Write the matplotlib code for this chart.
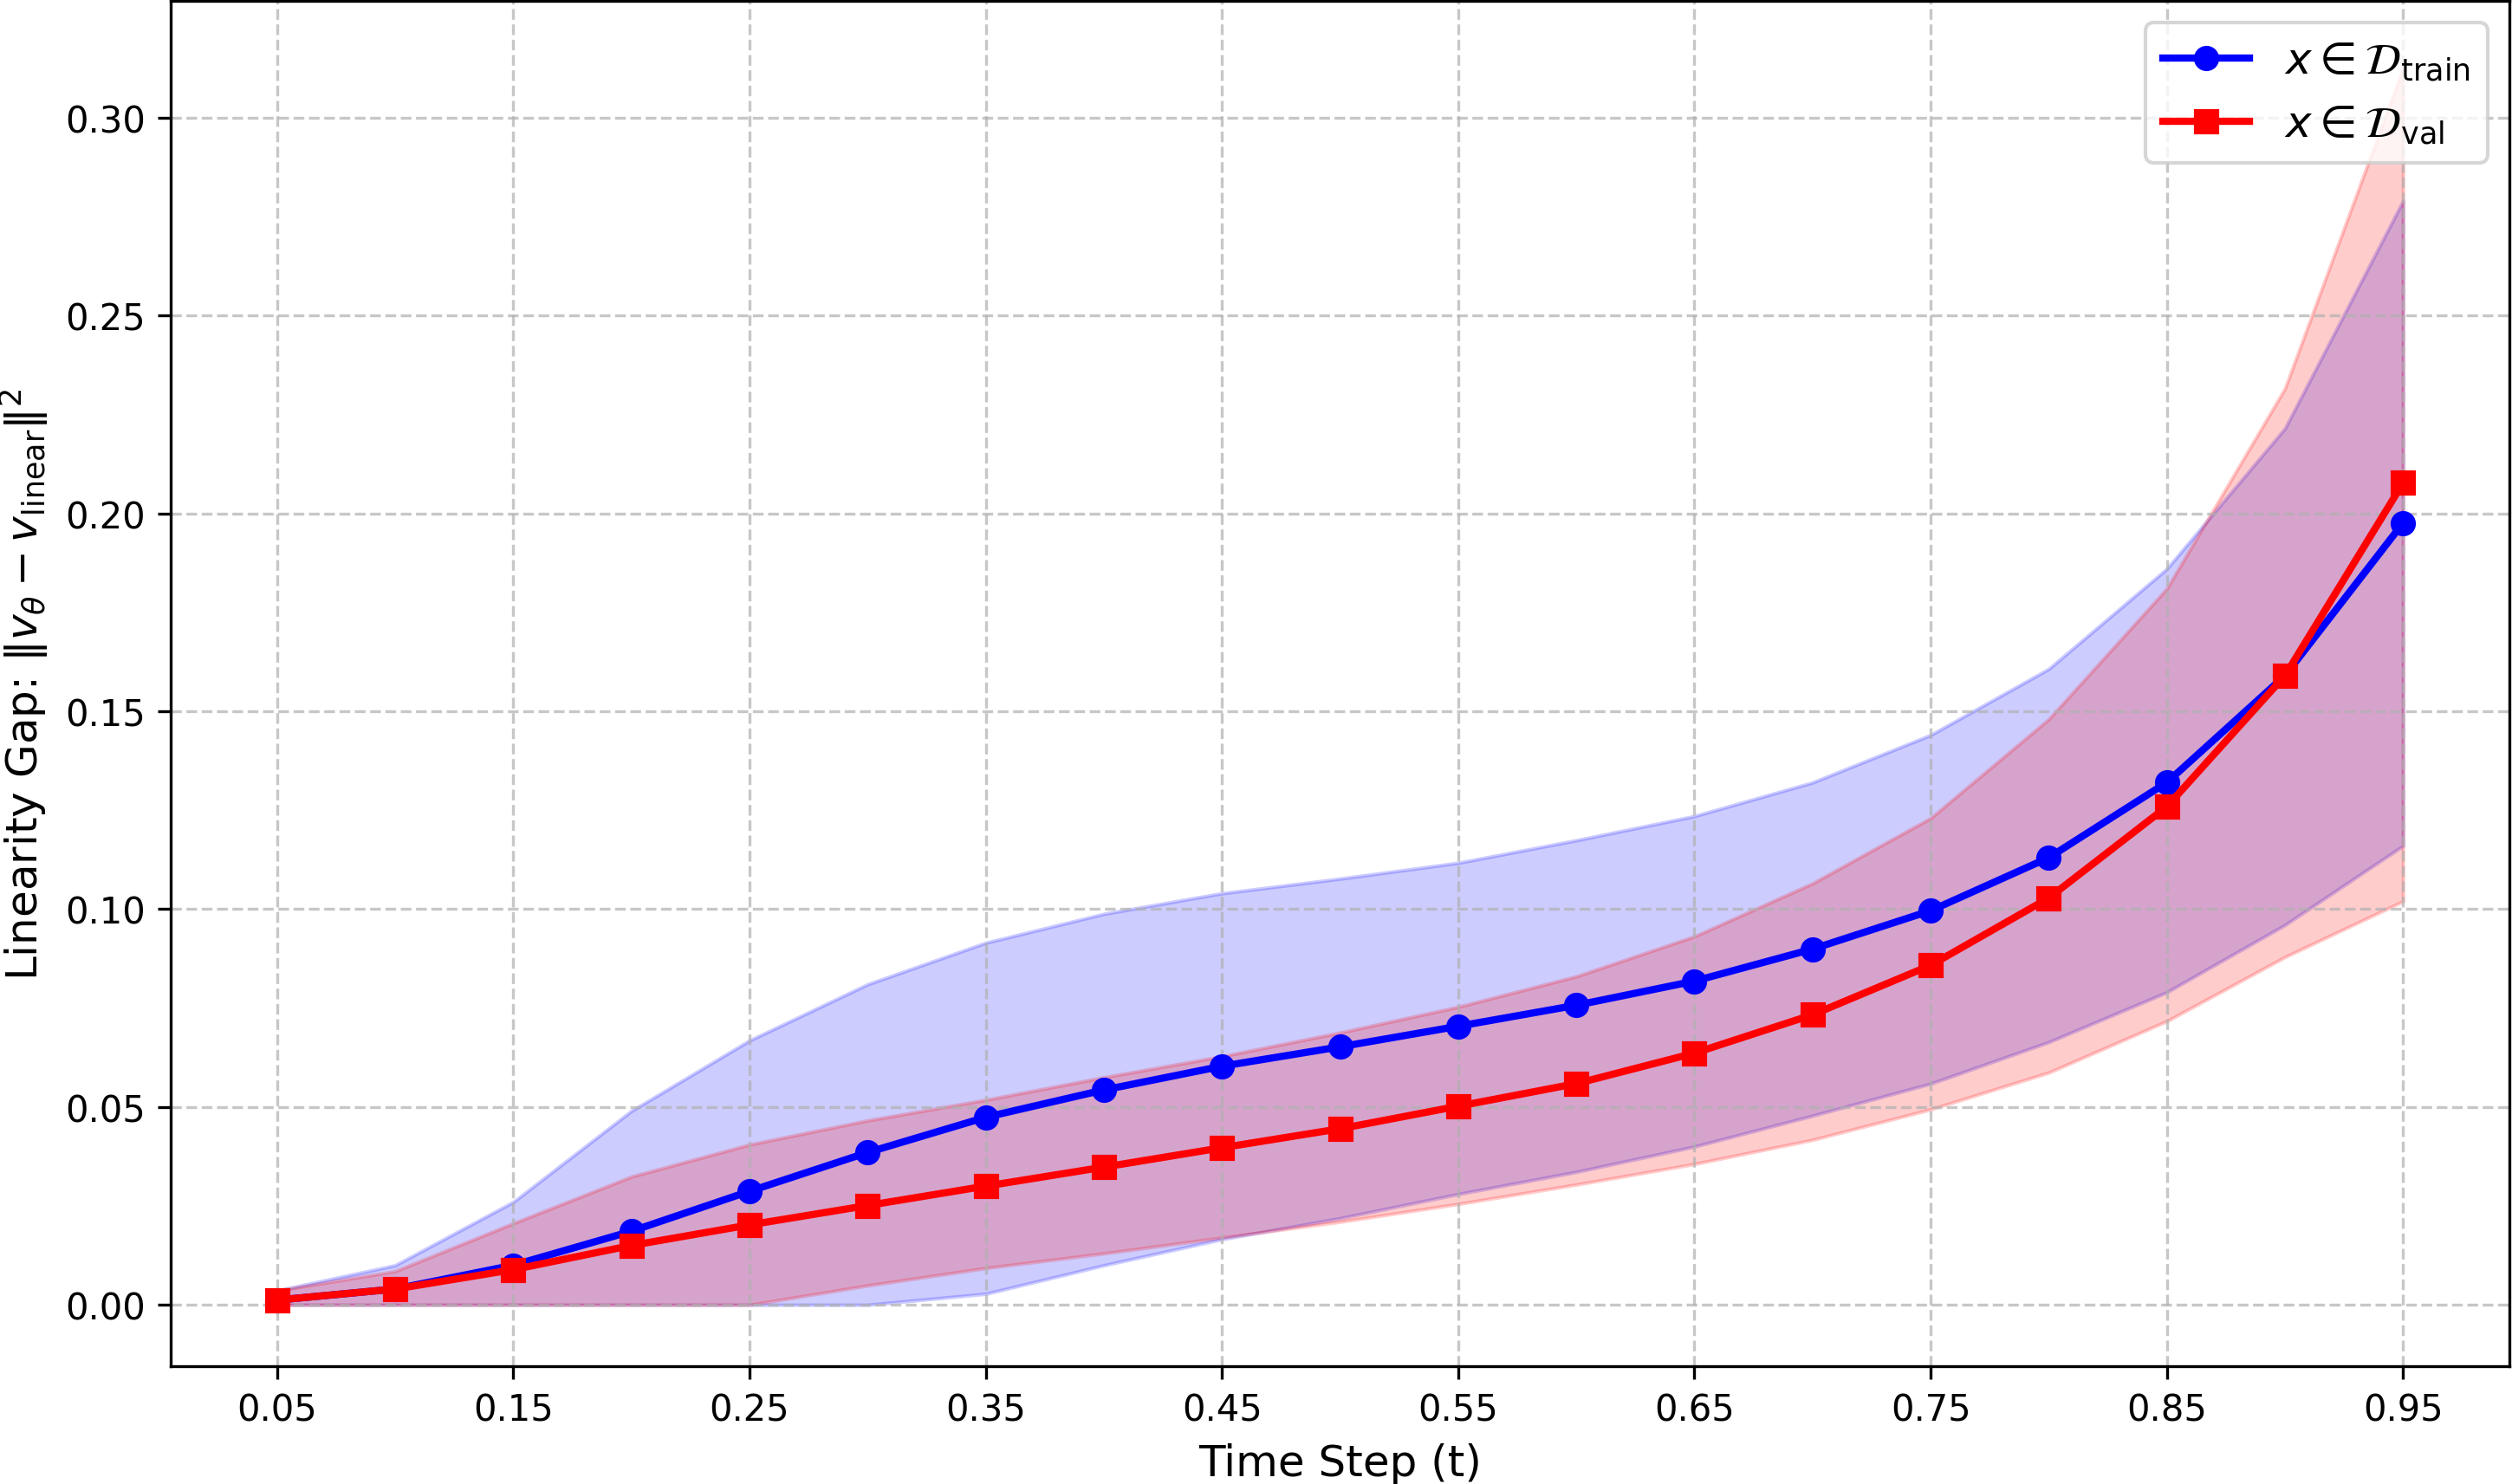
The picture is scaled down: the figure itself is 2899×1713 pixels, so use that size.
import matplotlib.pyplot as plt
import numpy as np

# Time steps
t = [0.05, 0.10, 0.15, 0.20, 0.25, 0.30, 0.35, 0.40, 0.45, 0.50,
     0.55, 0.60, 0.65, 0.70, 0.75, 0.80, 0.85, 0.90, 0.95]

# Train: mean and band
train_mean = [0.0012, 0.0040, 0.0100, 0.0186, 0.0287, 0.0385, 0.0474, 0.0543, 0.0603, 0.0652,
              0.0704, 0.0757, 0.0818, 0.0899, 0.0996, 0.1130, 0.1320, 0.1590, 0.1976]
train_upper = [0.0036, 0.0100, 0.0260, 0.0490, 0.0668, 0.0810, 0.0915, 0.0988, 0.1040, 0.1077,
               0.1117, 0.1174, 0.1235, 0.1320, 0.1440, 0.1607, 0.1860, 0.2215, 0.2790]
train_lower = [0.0, 0.0, 0.0, 0.0, 0.0, 0.0, 0.0028, 0.0100, 0.0166, 0.0219,
               0.0280, 0.0336, 0.0400, 0.0478, 0.0559, 0.0664, 0.0790, 0.0960, 0.1160]

# Val: mean and band
val_mean = [0.0012, 0.0040, 0.0089, 0.0150, 0.0202, 0.0251, 0.0300, 0.0348, 0.0397, 0.0445,
            0.0502, 0.0559, 0.0636, 0.0733, 0.0858, 0.1028, 0.1259, 0.1590, 0.2077]
val_upper = [0.0036, 0.0085, 0.0206, 0.0324, 0.0405, 0.0466, 0.0518, 0.0575, 0.0628, 0.0688,
             0.0753, 0.0830, 0.0931, 0.1065, 0.1230, 0.1480, 0.1810, 0.2316, 0.3125]
val_lower = [0.0, 0.0, 0.0, 0.0, 0.0, 0.0049, 0.0093, 0.0130, 0.0170, 0.0210,
             0.0255, 0.0304, 0.0356, 0.0417, 0.0494, 0.0587, 0.0717, 0.0879, 0.1020]

fig = plt.figure(figsize=(2899 / 300, 1714 / 300), dpi=300)
ax = fig.add_axes([197 / 2899, 136 / 1714, (2896 - 197) / 2899, (1578 - 2) / 1714])

ax.plot(t, train_mean, 'o-', color='blue', linewidth=2, markersize=6,
        label=r'$x \in \mathcal{D}_{\mathrm{train}}$')
ax.fill_between(t, train_lower, train_upper, color='blue', alpha=0.2)

ax.plot(t, val_mean, 's-', color='red', linewidth=2, markersize=6,
        label=r'$x \in \mathcal{D}_{\mathrm{val}}$')
ax.fill_between(t, val_lower, val_upper, color='red', alpha=0.2)

ax.set_xlabel('Time Step (t)', fontsize=12)
ax.set_ylabel(r'Linearity Gap: $\|v_\theta - v_{\mathrm{linear}}\|^2$', fontsize=12)
ax.set_xticks(t[::2])
ax.tick_params(labelsize=10)
ax.set_ylim(-0.0155, 0.3295)
ax.grid(True, linestyle='--', alpha=0.7)
ax.legend(loc='upper right', fontsize=12)

fig.savefig('out.png', dpi=300)
